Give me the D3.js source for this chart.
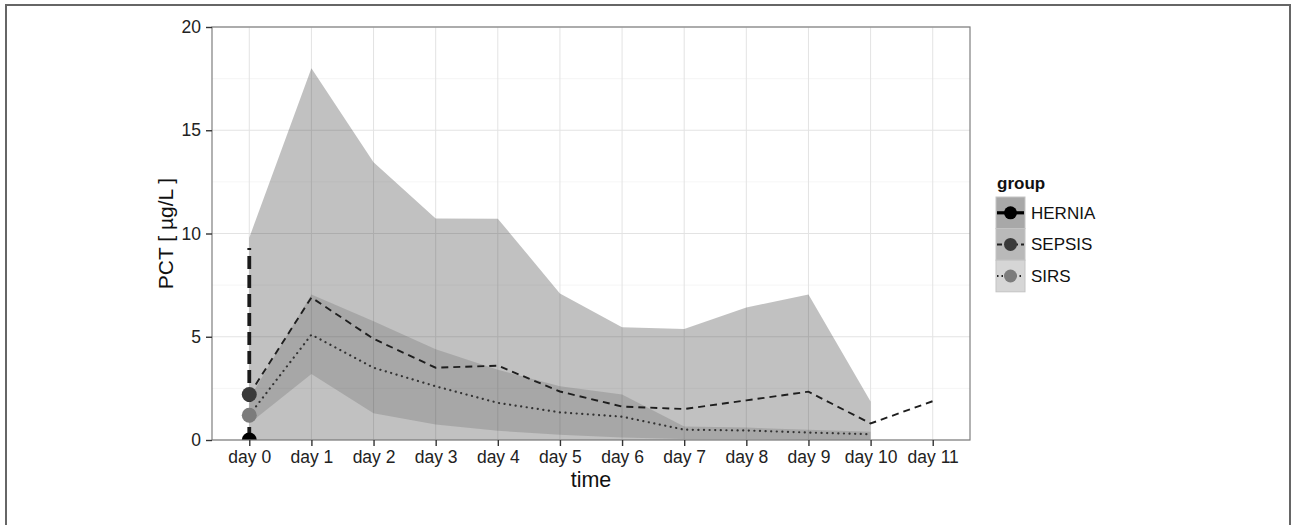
<!DOCTYPE html>
<html lang="en">
	<head>
		<meta charset="utf-8">
		<title>PCT by group</title>
		<script src="https://d3js.org/d3.v7.min.js"></script>
		<style type="text/css">
			body { margin: 0; background: #fff; }
			text { font-family: "Liberation Sans", Arial, Helvetica, sans-serif; }
		</style>
	</head>

	<body>
		<script type="text/javascript">
			// window setup
			var w = 1296
			var h = 525

			// data
			var days = [0, 1, 2, 3, 4, 5, 6, 7, 8, 9, 10, 11]
			var dayLabels = days.map(function(d) { return "day " + d })
			var yTicks = [0, 5, 10, 15, 20]

			var sepsisMedian = [2.2, 6.9, 4.9, 3.5, 3.6, 2.35, 1.62, 1.5, 1.92, 2.34, 0.8, 1.88]
			var sepsisUpper = [9.8, 18, 13.45, 10.73, 10.72, 7.1, 5.46, 5.37, 6.42, 7.05, 1.86]
			var sepsisLower = [0, 0, 0, 0, 0, 0, 0, 0, 0, 0, 0]

			var sirsMedian = [1.2, 5.1, 3.5, 2.6, 1.8, 1.34, 1.13, 0.5, 0.46, 0.36, 0.28]
			var sirsUpper = [2.0, 7.05, 5.75, 4.4, 3.4, 2.6, 2.2, 0.65, 0.6, 0.5, 0.4]
			var sirsLower = [0.8, 3.2, 1.3, 0.75, 0.45, 0.25, 0.12, 0.05, 0.05, 0.03, 0.02]

			var herniaDays = [0, 0]
			var herniaValues = [0, 9.3]

			var groups = ["HERNIA", "SEPSIS", "SIRS"]
			var firstValues = [0, 2.2, 1.2]
			var pointColors = ["#000000", "#3a3a3a", "#7c7c7c"]
			var keyFills = ["#a8a8a8", "#b9b9b9", "#d6d6d6"]
			var keyDash = [null, "5,3", "1.5,3"]

			// panel
			var pl = 212, pr = 970, pt = 27, pb = 440

			var x = d3.scaleLinear().domain([-0.6, 11.6]).range([pl, pr])
			var y = d3.scaleLinear().domain([0, 20]).range([pb, pt])

			var svg = d3.select("body")
						.append("svg")
						.attr("width", w)
						.attr("height", h)

			// outer frame
			svg.append("rect")
				.attr("x", 6).attr("y", 5)
				.attr("width", 1284).attr("height", 540)
				.style("fill", "none")
				.style("stroke", "#666")
				.style("stroke-width", 2)

			svg.append("clipPath").attr("id", "panel")
				.append("rect")
				.attr("x", pl).attr("y", pt)
				.attr("width", pr - pl).attr("height", pb - pt)

			// grid
			var grid = svg.append("g")
			grid.selectAll(".minor")
				.data([2.5, 7.5, 12.5, 17.5])
				.enter().append("line")
				.attr("x1", pl).attr("x2", pr)
				.attr("y1", function(d) { return y(d) })
				.attr("y2", function(d) { return y(d) })
				.style("stroke", "#f2f2f2").style("stroke-width", 0.8)
			grid.selectAll(".majy")
				.data(yTicks)
				.enter().append("line")
				.attr("x1", pl).attr("x2", pr)
				.attr("y1", function(d) { return y(d) })
				.attr("y2", function(d) { return y(d) })
				.style("stroke", "#e3e3e3").style("stroke-width", 1)
			grid.selectAll(".majx")
				.data(days)
				.enter().append("line")
				.attr("y1", pt).attr("y2", pb)
				.attr("x1", function(d) { return x(d) })
				.attr("x2", function(d) { return x(d) })
				.style("stroke", "#e3e3e3").style("stroke-width", 1)

			var plot = svg.append("g").attr("clip-path", "url(#panel)")

			// ribbons
			var ribbon = d3.area()
							.x(function(d) { return x(d.day) })
							.y0(function(d) { return y(d.lo) })
							.y1(function(d) { return y(d.hi) })

			var sepsisBand = sepsisUpper.map(function(v, i) { return { day: days[i], lo: sepsisLower[i], hi: v } })
			var sirsBand = sirsUpper.map(function(v, i) { return { day: days[i], lo: sirsLower[i], hi: v } })

			plot.append("path")
				.attr("d", ribbon(sepsisBand))
				.style("fill", "#333").style("fill-opacity", 0.3)
			plot.append("path")
				.attr("d", ribbon(sirsBand))
				.style("fill", "#333").style("fill-opacity", 0.18)

			// lines
			var line = d3.line()
						.x(function(d) { return x(d[0]) })
						.y(function(d) { return y(d[1]) })

			plot.append("path")
				.attr("d", line(herniaValues.map(function(v, i) { return [herniaDays[i], v] })))
				.style("fill", "none").style("stroke", "#1a1a1a")
				.style("stroke-width", 3.8).style("stroke-dasharray", "13,6")

			plot.append("path")
				.attr("d", line(sepsisMedian.map(function(v, i) { return [days[i], v] })))
				.style("fill", "none").style("stroke", "#1e1e1e")
				.style("stroke-width", 1.9).style("stroke-dasharray", "7,5")

			plot.append("path")
				.attr("d", line(sirsMedian.map(function(v, i) { return [days[i], v] })))
				.style("fill", "none").style("stroke", "#333")
				.style("stroke-width", 2.2).style("stroke-dasharray", "0.1,5.5")
				.style("stroke-linecap", "round")

			// points at day 0
			plot.selectAll("circle")
				.data(groups)
				.enter().append("circle")
				.attr("cx", x(0))
				.attr("cy", function(d, i) { return y(firstValues[i]) })
				.attr("r", 7.5)
				.style("fill", function(d, i) { return pointColors[i] })

			// panel border
			svg.append("rect")
				.attr("x", pl).attr("y", pt)
				.attr("width", pr - pl).attr("height", pb - pt)
				.style("fill", "none").style("stroke", "#7f7f7f").style("stroke-width", 1.2)

			// axes
			var xAxis = d3.axisBottom(x).tickValues(days)
							.tickFormat(function(d, i) { return dayLabels[i] })
							.tickSize(6).tickPadding(5)
			var gx = svg.append("g").attr("transform", "translate(0," + pb + ")").call(xAxis)
			var yAxis = d3.axisLeft(y).tickValues(yTicks).tickSize(6).tickPadding(5)
			var gy = svg.append("g").attr("transform", "translate(" + pl + ",0)").call(yAxis)

			;[gx, gy].forEach(function(g) {
				g.select(".domain").remove()
				g.selectAll(".tick line").style("stroke", "#333").style("stroke-width", 1.4)
				g.selectAll(".tick text")
					.style("font-size", "17.5px")
					.style("fill", "#222")
					.style("font-family", "'Liberation Sans', Arial, sans-serif")
			})

			svg.append("text")
				.attr("x", (pl + pr) / 2).attr("y", 487)
				.attr("text-anchor", "middle")
				.style("font-size", "21.5px").style("fill", "#111")
				.text("time")

			svg.append("text")
				.attr("transform", "translate(173," + ((pt + pb) / 2) + ") rotate(-90)")
				.attr("text-anchor", "middle")
				.style("font-size", "21px").style("fill", "#111")
				.text("PCT [ µg/L ]")

			// legend
			var lx = 996, ly = 197, kw = 29, kh = 31.6
			svg.append("text")
				.attr("x", lx + 1).attr("y", 189)
				.style("font-size", "17px").style("font-weight", "bold").style("fill", "#111")
				.text("group")

			var keys = svg.selectAll(".key")
							.data(groups)
							.enter().append("g")
							.attr("transform", function(d, i) { return "translate(" + lx + "," + (ly + i * kh) + ")" })

			keys.append("rect")
				.attr("width", kw).attr("height", kh)
				.style("fill", function(d, i) { return keyFills[i] })
				.style("stroke", "#c4c4c4").style("stroke-width", 1)

			keys.append("line")
				.attr("x1", 1).attr("x2", kw - 1)
				.attr("y1", kh / 2).attr("y2", kh / 2)
				.style("stroke", function(d, i) { return i == 0 ? "#000" : "#222" })
				.style("stroke-width", function(d, i) { return i == 0 ? 3.2 : 2 })
				.style("stroke-dasharray", function(d, i) { return keyDash[i] })

			keys.append("circle")
				.attr("cx", kw / 2).attr("cy", kh / 2).attr("r", 6.5)
				.style("fill", function(d, i) { return pointColors[i] })

			keys.append("text")
				.attr("x", kw + 6).attr("y", kh / 2 + 6)
				.style("font-size", "17px").style("fill", "#111")
				.text(function(d) { return d })
		</script>
	</body>
</html>
